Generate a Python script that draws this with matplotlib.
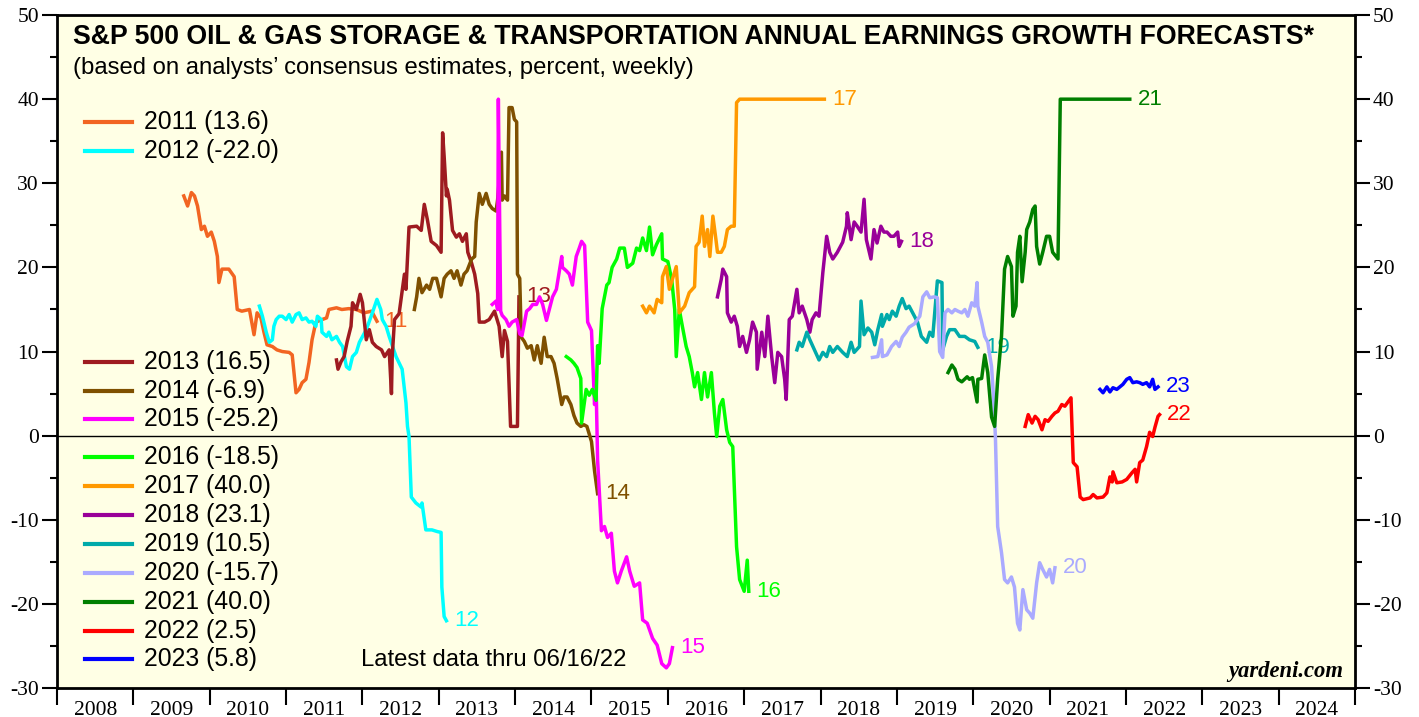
import matplotlib
matplotlib.use("Agg")
from matplotlib import pyplot as plt
from matplotlib.ticker import FixedLocator, MultipleLocator, NullFormatter

plt.rcParams['axes.unicode_minus'] = False

# forecast series: decimal year, percent growth
x_2011 = [2009.66, 2009.71, 2009.76, 2009.80, 2009.84, 2009.89, 2009.93, 2009.97, 2010.02, 2010.06,
          2010.10, 2010.12, 2010.16, 2010.25, 2010.32, 2010.36, 2010.42, 2010.52, 2010.58, 2010.62,
          2010.67, 2010.71, 2010.75, 2010.82, 2010.88, 2010.95, 2011.04, 2011.08, 2011.13, 2011.17,
          2011.21, 2011.26, 2011.30, 2011.34, 2011.39, 2011.47, 2011.53, 2011.56, 2011.66, 2011.73,
          2011.82, 2011.92, 2012.02, 2012.12, 2012.19]
v_2011 = [28.5, 27.3, 28.9, 28.5, 27.3, 24.5, 24.9, 23.7, 24.2, 23.1,
          21.3, 18.2, 19.8, 19.8, 18.9, 15.0, 14.8, 15.0, 12.0, 14.6,
          14.0, 12.3, 10.8, 10.6, 10.2, 10.0, 9.9, 9.6, 5.1, 5.5,
          6.3, 6.7, 8.7, 11.4, 13.5, 13.8, 14.0, 15.0, 15.2, 15.0,
          15.1, 15.0, 14.6, 14.8, 13.6]

x_2012 = [2010.65, 2010.69, 2010.74, 2010.78, 2010.82, 2010.84, 2010.87, 2010.91, 2010.95, 2011.00,
          2011.04, 2011.08, 2011.13, 2011.17, 2011.21, 2011.26, 2011.30, 2011.34, 2011.39, 2011.41,
          2011.46, 2011.47, 2011.53, 2011.56, 2011.60, 2011.66, 2011.70, 2011.74, 2011.79, 2011.83,
          2011.87, 2011.92, 2011.96, 2012.05, 2012.13, 2012.19, 2012.24, 2012.26, 2012.31, 2012.35,
          2012.44, 2012.52, 2012.57, 2012.59, 2012.61, 2012.64, 2012.70, 2012.77, 2012.78, 2012.83,
          2012.91, 2012.98, 2013.03, 2013.04, 2013.07, 2013.10]
v_2012 = [15.4, 14.2, 12.3, 11.1, 11.4, 13.0, 13.8, 14.2, 14.2, 13.8,
          14.4, 13.5, 14.4, 14.6, 13.8, 14.0, 13.5, 13.6, 13.0, 14.2,
          13.8, 12.3, 11.8, 12.3, 11.4, 11.8, 11.1, 10.6, 8.2, 7.9,
          9.4, 9.9, 11.1, 12.6, 14.6, 16.2, 15.0, 13.8, 13.0, 11.8,
          9.4, 7.9, 3.9, 1.1, -0.1, -7.3, -8.0, -8.5, -8.0, -11.2,
          -11.2, -11.4, -11.5, -18.0, -21.5, -22.0]

x_2013 = [2011.66, 2011.68, 2011.72, 2011.76, 2011.80, 2011.85, 2011.87, 2011.92, 2011.97, 2012.00,
          2012.05, 2012.09, 2012.13, 2012.18, 2012.25, 2012.29, 2012.35, 2012.38, 2012.39, 2012.42,
          2012.48, 2012.55, 2012.57, 2012.61, 2012.71, 2012.77, 2012.81, 2012.85, 2012.90, 2012.97,
          2013.03, 2013.05, 2013.07, 2013.10, 2013.11, 2013.14, 2013.18, 2013.23, 2013.27, 2013.31,
          2013.36, 2013.38, 2013.43, 2013.47, 2013.51, 2013.53, 2013.60, 2013.66, 2013.73, 2013.79,
          2013.83, 2013.86, 2013.90, 2013.94, 2014.03, 2014.05]
v_2013 = [9.0, 7.9, 8.8, 9.4, 11.2, 13.0, 15.8, 15.0, 16.8, 15.8,
          11.4, 12.6, 11.1, 10.6, 10.2, 9.4, 10.2, 5.0, 9.4, 13.8,
          14.5, 19.2, 17.4, 24.8, 24.9, 24.4, 27.5, 25.7, 23.1, 22.6,
          21.8, 36.0, 33.2, 28.5, 29.3, 28.0, 24.4, 23.6, 24.0, 23.1,
          24.0, 21.8, 20.5, 19.2, 16.9, 13.5, 13.5, 13.8, 14.8, 13.0,
          9.4, 12.5, 11.2, 1.1, 1.1, 16.5]

x_2014 = [2012.68, 2012.71, 2012.74, 2012.78, 2012.84, 2012.88, 2012.92, 2012.97, 2013.03, 2013.07,
          2013.11, 2013.16, 2013.20, 2013.24, 2013.29, 2013.33, 2013.37, 2013.43, 2013.47, 2013.49,
          2013.53, 2013.57, 2013.62, 2013.66, 2013.70, 2013.75, 2013.77, 2013.82, 2013.83, 2013.86,
          2013.90, 2013.92, 2013.96, 2013.99, 2014.02, 2014.03, 2014.06, 2014.08, 2014.12, 2014.16,
          2014.21, 2014.25, 2014.29, 2014.34, 2014.38, 2014.42, 2014.47, 2014.51, 2014.55, 2014.61,
          2014.64, 2014.68, 2014.73, 2014.77, 2014.81, 2014.86, 2014.90, 2014.94, 2015.00, 2015.04,
          2015.08]
v_2014 = [15.0, 16.5, 18.7, 17.0, 17.9, 17.4, 18.7, 18.7, 16.5, 18.7,
          19.2, 19.6, 18.7, 19.6, 17.9, 19.2, 19.6, 21.0, 21.3, 25.4,
          28.8, 27.5, 28.8, 27.5, 27.0, 26.7, 28.0, 33.7, 28.0, 28.5,
          28.0, 39.0, 39.0, 37.6, 37.3, 19.2, 18.7, 11.7, 11.2, 10.4,
          10.7, 9.0, 10.7, 8.6, 11.7, 9.4, 9.4, 8.6, 6.8, 3.7,
          4.6, 4.6, 3.7, 2.4, 1.5, 1.1, 1.3, 1.1, -0.7, -4.2,
          -6.9]

x_2015 = [2013.70, 2013.75, 2013.77, 2013.78, 2013.81, 2013.83, 2013.88, 2013.92, 2013.96, 2014.02,
          2014.06, 2014.09, 2014.15, 2014.19, 2014.23, 2014.28, 2014.32, 2014.36, 2014.41, 2014.45,
          2014.49, 2014.54, 2014.61, 2014.62, 2014.67, 2014.71, 2014.75, 2014.80, 2014.84, 2014.87,
          2014.91, 2014.95, 2015.00, 2015.04, 2015.06, 2015.08, 2015.13, 2015.17, 2015.21, 2015.26,
          2015.30, 2015.34, 2015.39, 2015.46, 2015.50, 2015.56, 2015.63, 2015.67, 2015.73, 2015.80,
          2015.86, 2015.92, 2015.98, 2016.02, 2016.06]
v_2015 = [15.6, 16.0, 15.0, 40.0, 14.8, 14.3, 13.8, 13.0, 13.5, 13.8,
          12.1, 11.9, 14.8, 15.1, 15.6, 15.6, 16.5, 15.6, 13.7, 15.1,
          16.5, 17.4, 21.3, 20.0, 19.6, 19.2, 17.9, 21.3, 22.3, 23.1,
          22.6, 13.5, 12.5, 3.7, 6.0, -2.9, -11.3, -10.8, -12.1, -11.6,
          -16.1, -17.5, -16.1, -14.4, -16.1, -17.9, -17.5, -21.9, -22.3, -24.1,
          -24.9, -27.1, -27.6, -27.1, -25.2]

x_2016 = [2014.67, 2014.73, 2014.77, 2014.81, 2014.86, 2014.87, 2014.93, 2014.97, 2015.01, 2015.06,
          2015.08, 2015.10, 2015.14, 2015.20, 2015.23, 2015.27, 2015.33, 2015.37, 2015.43, 2015.47,
          2015.54, 2015.59, 2015.63, 2015.67, 2015.72, 2015.76, 2015.80, 2015.85, 2015.92, 2015.93,
          2016.00, 2016.05, 2016.09, 2016.11, 2016.15, 2016.19, 2016.24, 2016.28, 2016.32, 2016.35,
          2016.39, 2016.44, 2016.48, 2016.52, 2016.57, 2016.61, 2016.64, 2016.68, 2016.72, 2016.77,
          2016.81, 2016.85, 2016.90, 2016.94, 2017.00, 2017.04, 2017.06]
v_2016 = [9.4, 9.0, 8.6, 8.1, 6.8, 1.5, 5.5, 4.8, 5.5, 4.2,
          10.7, 8.6, 15.1, 17.9, 18.2, 20.0, 21.0, 22.3, 22.3, 20.0,
          20.5, 22.3, 22.0, 23.5, 22.0, 24.8, 21.5, 22.7, 24.0, 21.0,
          20.7, 18.6, 15.0, 9.4, 15.0, 13.0, 10.6, 9.4, 7.5, 5.8,
          7.5, 4.3, 7.5, 4.6, 7.5, 2.7, -0.1, 3.5, 4.3, 0.7,
          -0.8, -1.3, -13.2, -17.1, -18.5, -14.8, -18.5]

x_2017 = [2015.67, 2015.72, 2015.76, 2015.82, 2015.86, 2015.92, 2015.93, 2015.98, 2016.02, 2016.06,
          2016.11, 2016.15, 2016.22, 2016.28, 2016.35, 2016.37, 2016.41, 2016.45, 2016.48, 2016.52,
          2016.55, 2016.59, 2016.63, 2016.65, 2016.70, 2016.74, 2016.78, 2016.83, 2016.87, 2016.90,
          2016.94, 2018.05]
v_2017 = [15.4, 14.6, 15.4, 14.6, 16.2, 15.8, 18.9, 20.1, 17.4, 18.6,
          20.1, 14.6, 15.4, 17.0, 17.7, 22.5, 23.0, 26.1, 22.5, 24.5,
          21.3, 26.1, 23.3, 21.8, 21.8, 22.5, 24.5, 24.9, 24.9, 39.6,
          40.0, 40.0]

x_2018 = [2016.65, 2016.70, 2016.72, 2016.77, 2016.78, 2016.83, 2016.87, 2016.91, 2016.94, 2016.98,
          2017.03, 2017.07, 2017.11, 2017.16, 2017.17, 2017.23, 2017.27, 2017.31, 2017.36, 2017.40,
          2017.44, 2017.49, 2017.53, 2017.55, 2017.59, 2017.63, 2017.69, 2017.72, 2017.76, 2017.82,
          2017.86, 2017.89, 2017.94, 2017.98, 2018.03, 2018.08, 2018.12, 2018.16, 2018.22, 2018.29,
          2018.34, 2018.35, 2018.40, 2018.44, 2018.48, 2018.53, 2018.57, 2018.60, 2018.66, 2018.70,
          2018.74, 2018.79, 2018.83, 2018.87, 2018.92, 2018.96, 2019.01, 2019.03, 2019.06]
v_2018 = [16.5, 18.6, 19.8, 18.9, 14.6, 13.5, 14.2, 13.0, 10.6, 11.8,
          9.9, 11.4, 13.5, 12.3, 7.9, 12.3, 9.4, 14.2, 9.4, 6.3,
          9.9, 9.4, 6.7, 4.3, 13.8, 14.2, 17.4, 14.6, 15.4, 13.8,
          12.3, 13.8, 14.6, 14.2, 19.4, 23.7, 21.8, 21.0, 21.8, 23.0,
          24.9, 26.5, 23.3, 25.4, 24.9, 24.2, 28.1, 23.3, 21.0, 24.5,
          22.9, 24.9, 24.2, 24.2, 23.7, 23.7, 24.2, 22.5, 23.1]

x_2019 = [2017.69, 2017.72, 2017.76, 2017.82, 2017.86, 2017.92, 2017.98, 2018.03, 2018.08, 2018.12,
          2018.16, 2018.22, 2018.29, 2018.35, 2018.40, 2018.44, 2018.51, 2018.53, 2018.57, 2018.62,
          2018.67, 2018.71, 2018.75, 2018.80, 2018.81, 2018.87, 2018.90, 2018.94, 2018.99, 2019.03,
          2019.07, 2019.12, 2019.16, 2019.23, 2019.27, 2019.32, 2019.39, 2019.43, 2019.47, 2019.53,
          2019.59, 2019.60, 2019.65, 2019.69, 2019.76, 2019.82, 2019.89, 2019.95, 2020.02, 2020.06]
v_2019 = [10.2, 11.1, 10.6, 12.3, 11.4, 10.2, 9.0, 9.9, 9.4, 10.6,
          9.9, 10.6, 9.9, 9.4, 11.1, 9.9, 10.6, 16.0, 12.0, 12.8,
          12.3, 10.8, 12.6, 14.4, 13.0, 14.4, 13.8, 14.8, 14.2, 15.4,
          16.3, 15.1, 15.4, 14.2, 13.5, 11.8, 11.1, 12.3, 11.8, 18.4,
          18.2, 10.2, 11.8, 12.6, 12.6, 11.8, 11.8, 11.4, 11.2, 10.5]

x_2020 = [2018.68, 2018.75, 2018.80, 2018.81, 2018.87, 2018.93, 2018.99, 2019.03, 2019.07, 2019.12,
          2019.16, 2019.23, 2019.30, 2019.34, 2019.39, 2019.43, 2019.49, 2019.53, 2019.56, 2019.60,
          2019.63, 2019.67, 2019.72, 2019.76, 2019.80, 2019.85, 2019.89, 2019.93, 2019.98, 2020.02,
          2020.05, 2020.06, 2020.11, 2020.15, 2020.19, 2020.24, 2020.27, 2020.29, 2020.32, 2020.37,
          2020.41, 2020.45, 2020.50, 2020.54, 2020.58, 2020.61, 2020.65, 2020.70, 2020.74, 2020.78,
          2020.83, 2020.87, 2020.91, 2020.96, 2021.00, 2021.04, 2021.07]
v_2020 = [9.3, 9.4, 11.4, 9.4, 9.6, 10.6, 11.2, 10.6, 11.7, 12.3,
          12.9, 13.3, 14.2, 16.5, 17.1, 16.4, 16.5, 16.4, 10.0, 9.3,
          14.6, 15.0, 14.6, 15.0, 14.8, 14.6, 15.0, 14.2, 15.8, 15.4,
          18.2, 15.4, 13.5, 11.8, 11.1, 8.2, 3.9, -0.1, -10.8, -13.9,
          -17.1, -17.5, -16.8, -18.0, -22.3, -23.1, -18.3, -20.7, -21.1, -21.7,
          -17.5, -15.1, -15.9, -16.8, -15.9, -17.5, -15.7]

x_2021 = [2019.67, 2019.72, 2019.76, 2019.80, 2019.85, 2019.92, 2019.95, 2019.99, 2020.05, 2020.06,
          2020.11, 2020.15, 2020.19, 2020.24, 2020.28, 2020.32, 2020.37, 2020.41, 2020.45, 2020.50,
          2020.52, 2020.56, 2020.58, 2020.61, 2020.64, 2020.68, 2020.70, 2020.74, 2020.78, 2020.81,
          2020.83, 2020.87, 2020.91, 2020.96, 2021.00, 2021.04, 2021.11, 2021.14, 2022.05]
v_2021 = [7.5, 8.4, 7.9, 6.7, 6.4, 7.0, 6.7, 6.9, 4.0, 6.7,
          6.8, 9.6, 7.5, 2.2, 1.1, 6.7, 11.8, 19.8, 21.3, 20.1,
          14.2, 15.4, 21.8, 23.7, 18.3, 21.8, 24.5, 25.4, 26.9, 27.3,
          22.5, 20.4, 21.8, 23.7, 23.7, 21.8, 21.0, 40.0, 40.0]

x_2022 = [2020.68, 2020.72, 2020.77, 2020.81, 2020.85, 2020.90, 2020.94, 2020.98, 2021.03, 2021.07,
          2021.11, 2021.16, 2021.20, 2021.24, 2021.28, 2021.31, 2021.36, 2021.40, 2021.44, 2021.53,
          2021.57, 2021.62, 2021.70, 2021.75, 2021.79, 2021.82, 2021.83, 2021.88, 2021.95, 2022.01,
          2022.08, 2022.12, 2022.14, 2022.18, 2022.22, 2022.27, 2022.31, 2022.35, 2022.38, 2022.42,
          2022.44]
v_2022 = [1.1, 2.5, 1.5, 2.3, 1.9, 0.7, 1.9, 1.7, 2.3, 2.7,
          2.9, 3.7, 3.5, 4.0, 4.5, -3.2, -3.7, -7.3, -7.6, -7.4,
          -7.0, -7.4, -7.3, -6.8, -4.9, -5.5, -4.3, -5.6, -5.5, -5.2,
          -4.4, -4.0, -5.5, -3.2, -2.9, -1.3, 0.4, -0.1, 1.0, 2.3,
          2.5]

x_2023 = [2021.66, 2021.70, 2021.75, 2021.79, 2021.83, 2021.88, 2021.92, 2021.96, 2022.01, 2022.05,
          2022.09, 2022.14, 2022.18, 2022.22, 2022.27, 2022.31, 2022.35, 2022.38, 2022.42]
v_2023 = [5.5, 5.1, 5.8, 5.2, 5.7, 5.5, 5.8, 6.1, 6.7, 6.9,
          6.3, 6.4, 6.3, 6.1, 6.3, 5.8, 6.7, 5.5, 5.8]

years = [2011, 2012, 2013, 2014, 2015, 2016, 2017, 2018, 2019, 2020, 2021, 2022, 2023]
final_values = [13.6, -22.0, 16.5, -6.9, -25.2, -18.5, 40.0, 23.1, 10.5, -15.7, 40.0, 2.5, 5.8]
colors = ['#F26522', '#00FFFF', '#9E1B20', '#7F5000', '#FF00FF', '#00FF00', '#FF9900',
          '#990099', '#00AAAA', '#AAAAFF', '#007F00', '#FF0000', '#0000FF']
xs = [x_2011, x_2012, x_2013, x_2014, x_2015, x_2016, x_2017, x_2018, x_2019, x_2020,
      x_2021, x_2022, x_2023]
vs = [v_2011, v_2012, v_2013, v_2014, v_2015, v_2016, v_2017, v_2018, v_2019, v_2020,
      v_2021, v_2022, v_2023]

year_labels = [str(y) for y in range(2008, 2025)]

SANS = ['Liberation Sans', 'DejaVu Sans']
SERIF = ['Liberation Serif', 'DejaVu Serif']

fig = plt.figure(figsize=(14.19, 7.17), dpi=100)
ax = fig.add_axes([0.0402, 0.0404, 0.9147, 0.9386])
ax.set_facecolor('#FFFFE5')

ax.axhline(0, color='black', lw=1, zorder=1.5)

for yr, x, v, c in zip(years, xs, vs, colors):
    ax.plot(x, v, color=c, lw=2.5, solid_joinstyle='round', zorder=2)
    ax.text(x[-1] + 0.1, v[-1], str(yr)[2:], color=c, fontsize=16,
            family=SANS, va='center', ha='left', zorder=1.8)

ax.set_xlim(2008, 2025)
ax.set_ylim(-30, 50)

# year boundaries as ticks, labels centred in each year
ax.xaxis.set_major_locator(FixedLocator(list(range(2008, 2026))))
ax.xaxis.set_major_formatter(NullFormatter())
ax.xaxis.set_minor_locator(FixedLocator([y + 0.5 for y in range(2008, 2025)]))
ax.set_xticklabels(year_labels, minor=True)
ax.tick_params(axis='x', which='major', direction='out', length=12, width=1.5)
ax.tick_params(axis='x', which='minor', length=0, pad=9, labelsize=15.5)

ax.yaxis.set_major_locator(MultipleLocator(10))
ax.yaxis.set_minor_locator(MultipleLocator(5))
ax.tick_params(axis='y', which='both', direction='out', left=True, right=True,
               labelleft=True, labelright=True, width=1.5)
ax.tick_params(axis='y', which='major', length=11, pad=2, labelsize=15.5)
ax.tick_params(axis='y', which='minor', length=5)
for lab in ax.get_xticklabels(minor=True):
    lab.set_family(SERIF)
for t in ax.yaxis.get_major_ticks():
    t.label1.set_family(SERIF)
    t.label2.set_family(SERIF)

for s in ax.spines.values():
    s.set_linewidth(2)

# title block
ax.text(0.0123, 0.968, 'S&P 500 OIL & GAS STORAGE & TRANSPORTATION ANNUAL EARNINGS GROWTH FORECASTS*',
        transform=ax.transAxes, fontsize=19.2, fontweight='bold', family=SANS, va='center')
ax.text(0.0123, 0.922, '(based on analysts\u2019 consensus estimates, percent, weekly)',
        transform=ax.transAxes, fontsize=17.2, family=SANS, va='center')

# legend, drawn in two groups like the original
legend_y = [0.841, 0.798, 0.484, 0.441, 0.400, 0.343, 0.300, 0.257, 0.214, 0.171, 0.128, 0.085, 0.043]
for yr, fv, c, ly in zip(years, final_values, colors, legend_y):
    ax.plot([0.0216, 0.0578], [ly, ly], transform=ax.transAxes, color=c, lw=3, zorder=3)
    ax.text(0.067, ly, f'{yr} ({fv:.1f})', transform=ax.transAxes, fontsize=17.8,
            family=SANS, va='center', zorder=3)

ax.text(0.234, 0.042, 'Latest data thru 06/16/22', transform=ax.transAxes,
        fontsize=17.2, family=SANS, va='center')
ax.text(0.991, 0.024, 'yardeni.com', transform=ax.transAxes, fontsize=16.3,
        family=SERIF, fontweight='bold', fontstyle='italic', va='center', ha='right')

fig.savefig('out.png', dpi=100)
